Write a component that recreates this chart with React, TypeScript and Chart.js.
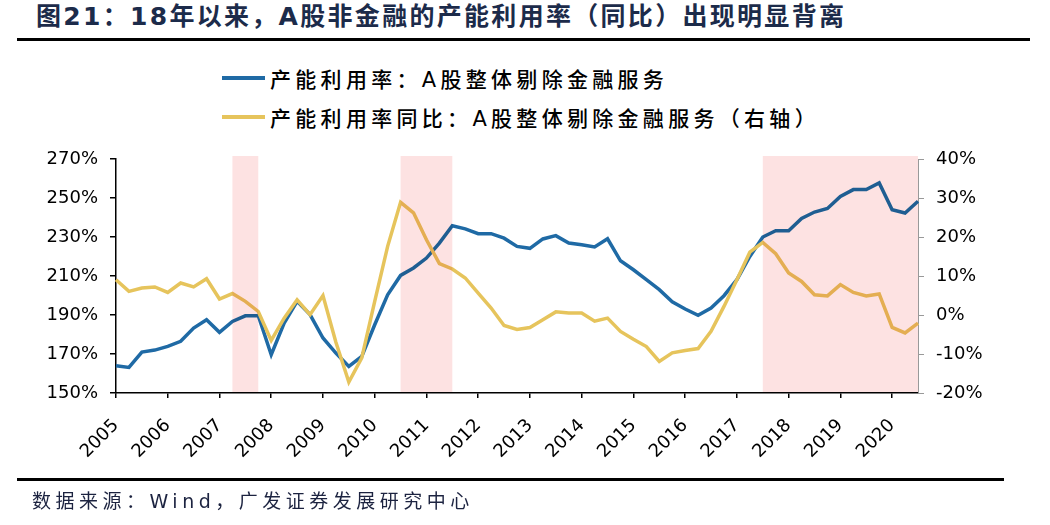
import React, { useEffect, useRef } from "react";
import { Chart, registerables } from "chart.js";

Chart.register(...registerables);

const years = [2005, 2006, 2007, 2008, 2009, 2010, 2011, 2012, 2013, 2014, 2015, 2016, 2017, 2018, 2019, 2020];
const quarterNames = ["Q1", "Q2", "Q3", "Q4"];
const quarters = years.flatMap((y) => quarterNames.map((q) => `${y}${q}`)).slice(0, 63);

const utilization = [
  164.0, 163.1, 171.0, 172.0, 173.9, 176.5, 183.3, 187.6, 181.1, 186.7, 189.6, 189.6,
  169.6, 185.9, 197.0, 190.2, 178.2, 170.5, 163.6, 168.8, 185.0, 200.4, 210.3, 214.1,
  219.2, 226.9, 235.8, 234.2, 231.7, 231.7, 229.4, 225.2, 224.2, 229.0, 230.7, 226.9,
  226.0, 224.9, 229.1, 217.8, 213.2, 208.1, 203.0, 196.8, 193.1, 189.8, 193.6, 199.9,
  208.1, 220.0, 230.0, 233.2, 233.2, 239.5, 242.8, 244.6, 250.8, 254.3, 254.3, 257.7,
  244.0, 242.3, 248.3,
];

const utilizationYoY = [
  9.05, 6.05, 6.9, 7.2, 5.8, 8.2, 7.2, 9.3, 4.1, 5.5, 3.5, 0.9,
  -6.5, -0.8, 3.9, 0.1, 5.0, -7.0, -17.2, -11.0, 3.5, 17.6, 28.9, 26.2,
  19.3, 13.2, 11.8, 9.5, 5.6, 1.8, -2.7, -3.7, -3.2, -1.2, 0.8, 0.5,
  0.5, -1.6, -0.8, -4.2, -6.2, -8.1, -11.9, -9.7, -9.1, -8.6, -4.2, 2.2,
  9.05, 16.1, 18.6, 15.7, 10.8, 8.6, 5.2, 4.9, 7.8, 5.8, 4.9, 5.4,
  -3.2, -4.6, -2.1,
];

const shadeStart = ["2007Q2", "2010Q3", "2017Q3"];
const shadeEnd = ["2007Q4", "2011Q3", "2020Q3"];

const title = "图21：18年以来，A股非金融的产能利用率（同比）出现明显背离";
const seriesNames = ["产能利用率：A股整体剔除金融服务", "产能利用率同比：A股整体剔除金融服务（右轴）"];
const sourceText = "数据来源：Wind，广发证券发展研究中心";

const BLUE = "#1f6aa5";
const YELLOW = "#e6c45c";

const shadePlugin = {
  id: "shade",
  afterDraw(chart: any) {
    const { ctx, chartArea, scales } = chart;
    const xs = scales.x;
    ctx.save();
    ctx.globalCompositeOperation = "multiply";
    ctx.fillStyle = "#fde2e2";
    shadeStart.forEach((s, i) => {
      const x0 = xs.getPixelForValue(quarters.indexOf(s));
      const x1 = xs.getPixelForValue(quarters.indexOf(shadeEnd[i]));
      ctx.fillRect(x0, chartArea.top - 3, x1 - x0, chartArea.bottom - chartArea.top + 3);
    });
    ctx.restore();
  },
};

const tickFont = { family: "'DejaVu Sans', sans-serif", size: 18 };

export default function App() {
  const ref = useRef<HTMLCanvasElement | null>(null);
  useEffect(() => {
    if (!ref.current) return;
    const chart = new Chart(ref.current, {
      type: "line",
      data: {
        labels: quarters,
        datasets: [
          {
            label: seriesNames[0],
            data: utilization,
            borderColor: BLUE,
            borderWidth: 3.5,
            pointRadius: 0,
            tension: 0,
            yAxisID: "y",
            order: 1,
          },
          {
            label: seriesNames[1],
            data: utilizationYoY,
            borderColor: YELLOW,
            borderWidth: 3.5,
            pointRadius: 0,
            tension: 0,
            yAxisID: "y1",
            order: 0,
          },
        ],
      },
      options: {
        animation: false,
        responsive: false,
        layout: { padding: { top: 159, left: 0, right: 0, bottom: 0 } },
        plugins: { legend: { display: false }, tooltip: { enabled: false } },
        scales: {
          x: {
            type: "category",
            offset: false,
            grid: { drawOnChartArea: false, drawTicks: true, tickLength: 5, color: "#000", lineWidth: 1.5 },
            border: { display: true, color: "#000", width: 1.5 },
            ticks: {
              autoSkip: false,
              minRotation: 45,
              maxRotation: 45,
              padding: 17,
              color: "#000",
              font: tickFont,
              callback: (_v: any, i: number) => (i % 4 === 0 ? quarters[i].slice(0, 4) : null),
            },
            afterFit: (s: any) => {
              s.height = 132;
            },
          },
          y: {
            position: "left",
            min: 150,
            max: 270,
            grid: { drawOnChartArea: false, tickLength: 6, color: "#000", lineWidth: 1.5 },
            border: { display: true, color: "#000", width: 1.5 },
            ticks: { stepSize: 20, padding: 12, color: "#000", font: tickFont, callback: (v: any) => `${v}%` },
            afterFit: (s: any) => {
              s.width = 116;
            },
          },
          y1: {
            position: "right",
            min: -20,
            max: 40,
            grid: { drawOnChartArea: false, tickLength: 6, color: "#999", lineWidth: 1 },
            border: { display: true, color: "#999", width: 1 },
            ticks: { stepSize: 10, padding: 12, color: "#000", font: tickFont, callback: (v: any) => `${v}%` },
            afterFit: (s: any) => {
              s.width = 132;
            },
          },
        },
      },
      plugins: [shadePlugin],
    } as any);
    return () => chart.destroy();
  }, []);

  const cjk = "'DejaVu Sans', 'Noto Sans CJK SC', sans-serif";
  return (
    <div style={{ position: "fixed", left: 0, top: 0, width: 1050, height: 525, background: "#fff", overflow: "hidden" }}>
      <div
        style={{
          position: "absolute",
          left: 36,
          top: 1,
          fontFamily: cjk,
          fontWeight: 700,
          fontSize: 25,
          lineHeight: "32px",
          letterSpacing: 2.3,
          color: "#1c2b4a",
          whiteSpace: "nowrap",
        }}
      >
        {title}
      </div>
      <div style={{ position: "absolute", left: 17, top: 38, width: 1013, height: 3, background: "#000" }} />
      {seriesNames.map((name, i) => (
        <div key={i} style={{ position: "absolute", left: 222, top: 63 + i * 39, height: 30, display: "flex", alignItems: "center" }}>
          <div style={{ width: 43, height: 4, background: i === 0 ? BLUE : YELLOW, marginRight: 5 }} />
          <div style={{ fontFamily: cjk, fontWeight: 500, fontSize: 21, letterSpacing: 4.3, color: "#000", whiteSpace: "nowrap" }}>
            {name}
          </div>
        </div>
      ))}
      <canvas ref={ref} width={1050} height={525} style={{ position: "absolute", left: 0, top: 0, width: 1050, height: 525 }} />
      <div style={{ position: "absolute", left: 17, top: 478, width: 987, height: 3, background: "#000" }} />
      <div
        style={{
          position: "absolute",
          left: 32,
          top: 487,
          fontFamily: cjk,
          fontSize: 19,
          lineHeight: "28px",
          letterSpacing: 4.5,
          color: "#1c2340",
          whiteSpace: "nowrap",
        }}
      >
        {sourceText}
      </div>
    </div>
  );
}
